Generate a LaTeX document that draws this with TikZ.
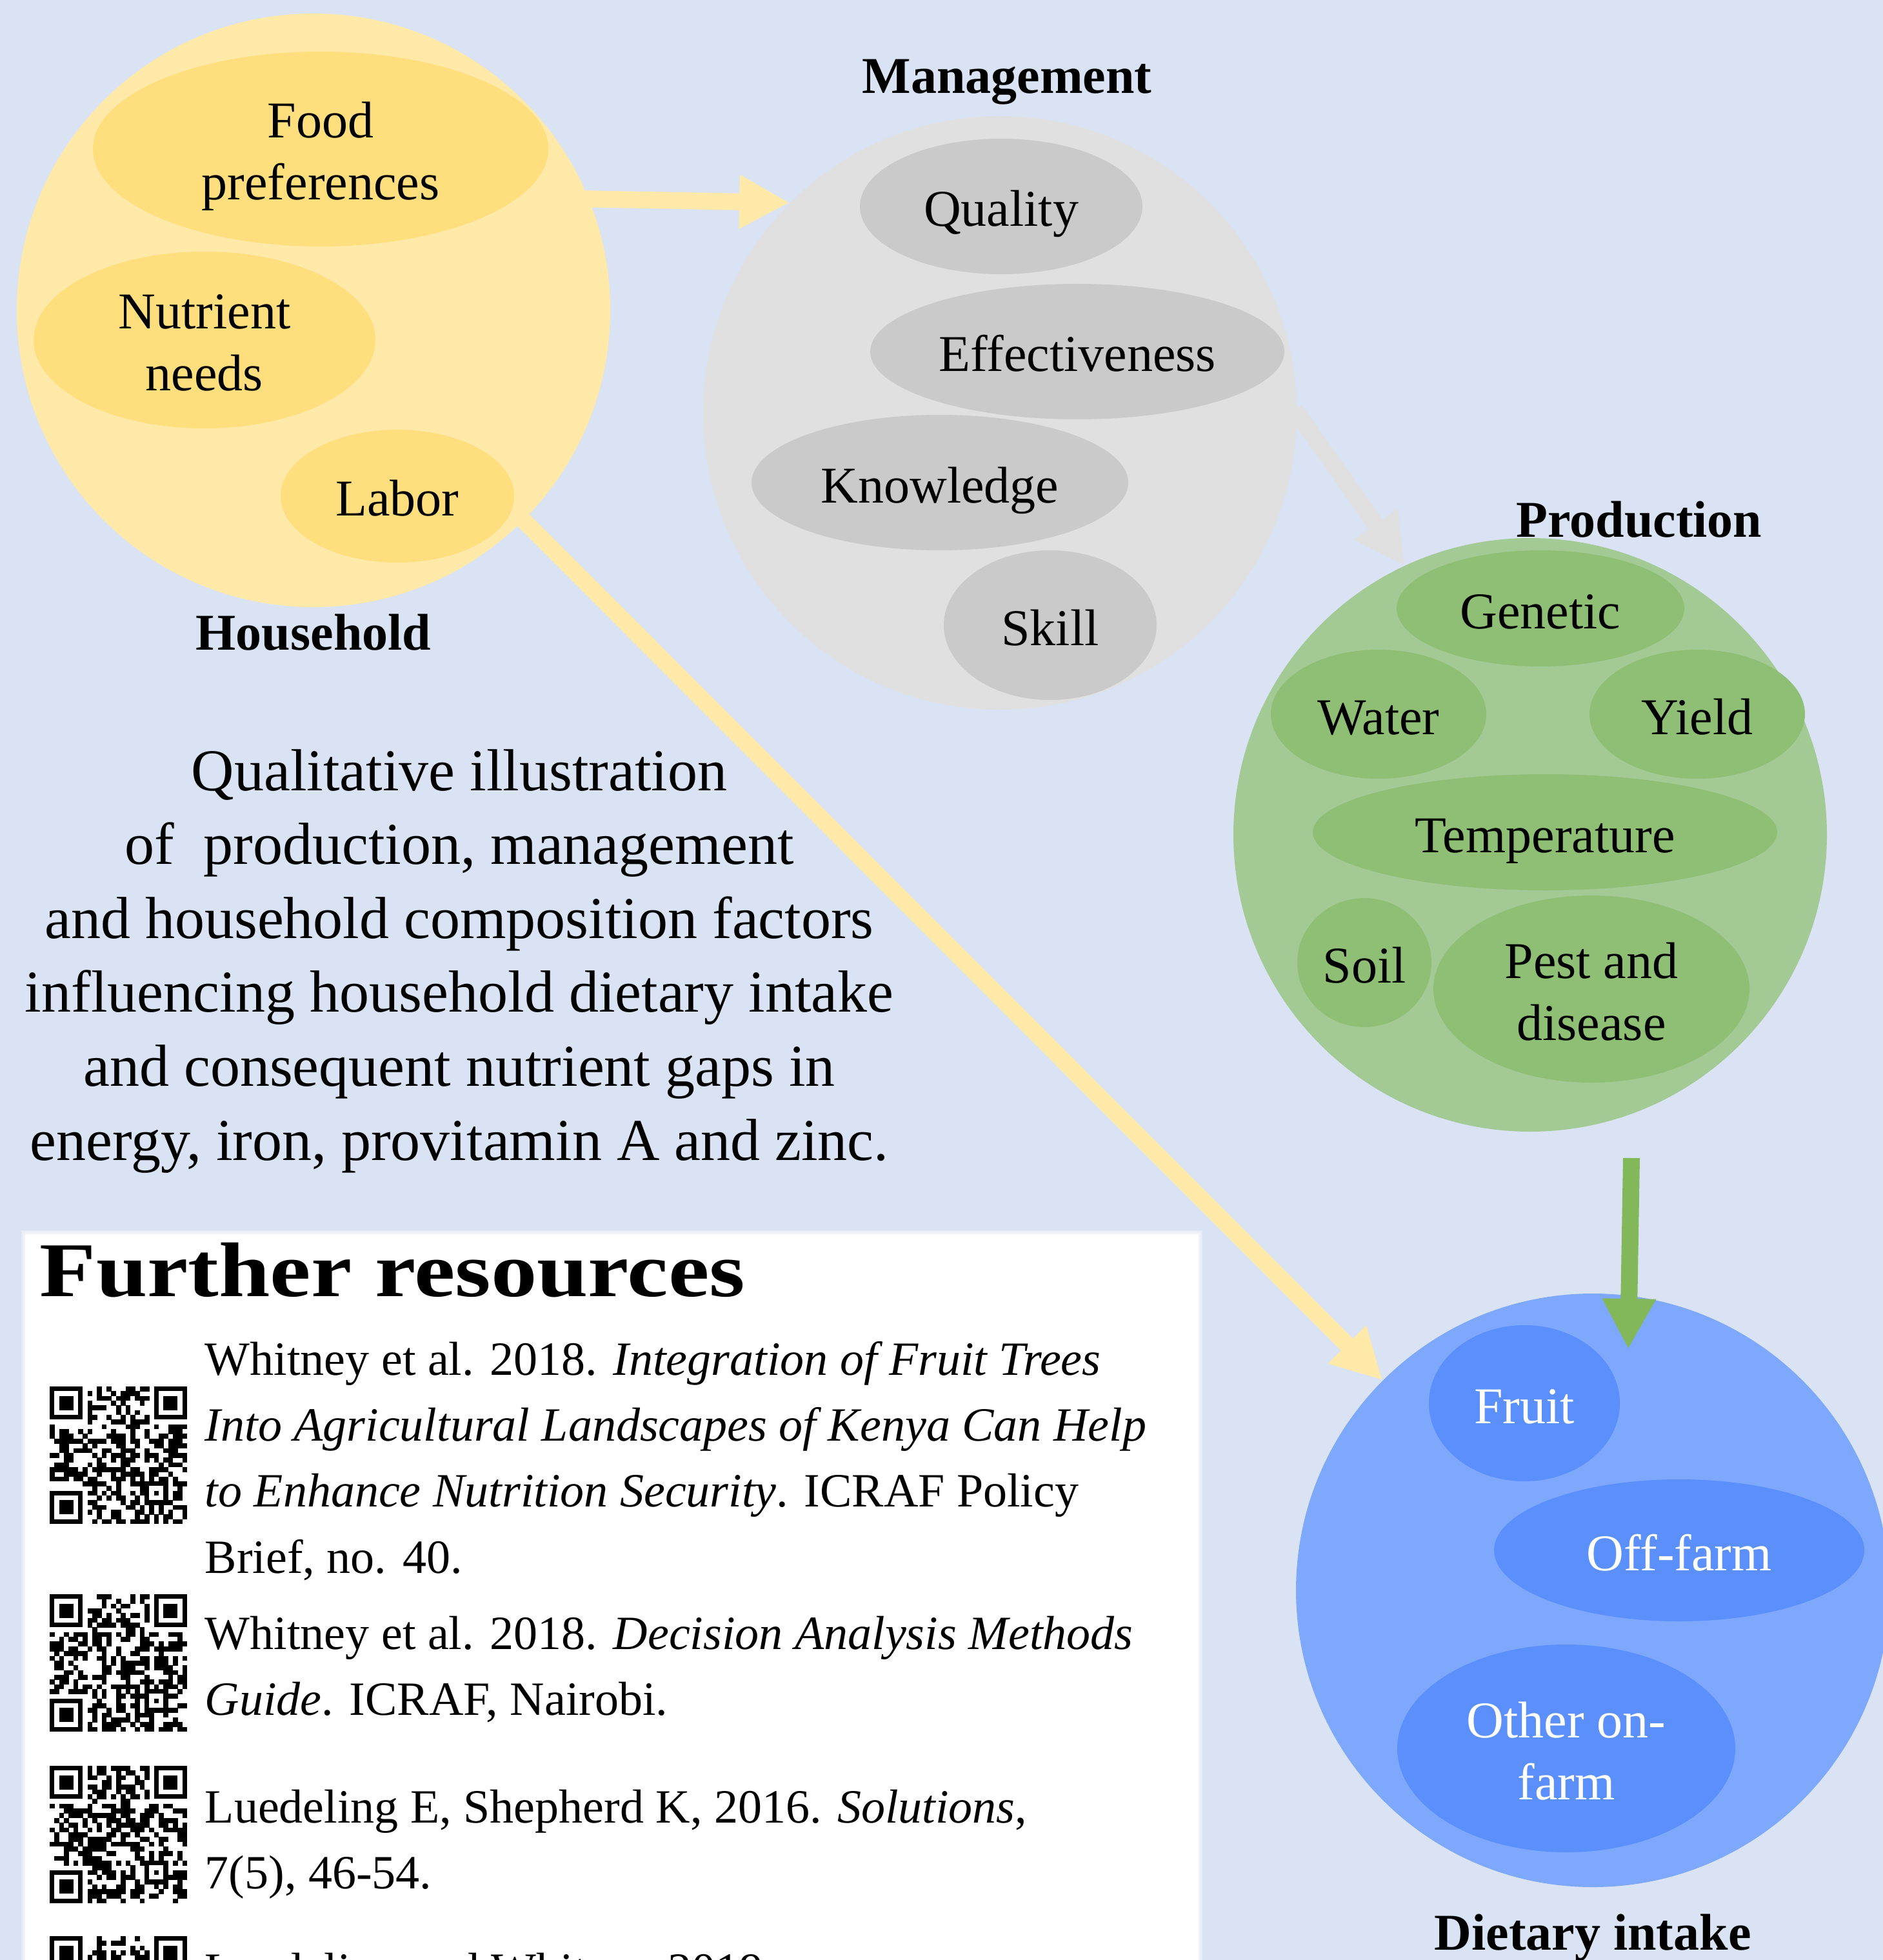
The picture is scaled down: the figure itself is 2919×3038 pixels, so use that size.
\documentclass[tikz,border=0pt]{standalone}
\usepackage{fontspec}
\setmainfont{Liberation Serif}
\usepackage{graphicx}
\usetikzlibrary{shapes.geometric,arrows.meta,calc}

% palette
\definecolor{cBG}{HTML}{DAE3F3}
\definecolor{cHHout}{HTML}{FFE9A8}
\definecolor{cHHin}{HTML}{FFDE7D}
\definecolor{cMGout}{HTML}{E0E0E0}
\definecolor{cMGin}{HTML}{CACACA}
\definecolor{cPRout}{HTML}{A3C995}
\definecolor{cPRin}{HTML}{8FBF74}
\definecolor{cPRarrow}{HTML}{82B85A}
\definecolor{cDIout}{HTML}{7EA8FC}
\definecolor{cDIin}{HTML}{5A8FFC}

% fixed text box heights so every bubble label sits at the same optical height
\newcommand\oneline[1]{\raisebox{0pt}[17pt][1.5pt]{#1}}
\newcommand\twolines[2]{\raisebox{0pt}[17pt][25.5pt]{\begin{tabular}[t]{@{}c@{}}#1\\#2\end{tabular}}}

% QR-style module pattern: #1,#2 top-left corner, #3 seed
\newcommand\qrpattern[3]{%
  \pgfmathsetseed{#3}%
  \foreach \i in {0,...,28}{%
    \foreach \j in {0,...,28}{%
      \def\keep{1}%
      \ifnum\i<8 \ifnum\j<8 \def\keep{0}\fi\fi
      \ifnum\i>20 \ifnum\j<8 \def\keep{0}\fi\fi
      \ifnum\i<8 \ifnum\j>20 \def\keep{0}\fi\fi
      \ifnum\i>19 \ifnum\i<25 \ifnum\j>19 \ifnum\j<25 \def\keep{0}\fi\fi\fi\fi
      \ifnum\keep=1
        \pgfmathrandominteger{\bit}{0}{1}%
        \ifnum\bit=1 \fill (#1+\i*7.345, #2+\j*7.345) rectangle ++(7.7,7.7);\fi
      \fi
    }%
  }%
  \foreach \fx/\fy in {0/0, 22/0, 0/22}{%
    \fill (#1+\fx*7.345, #2+\fy*7.345) rectangle ++(51.4,51.4);
    \fill[white] (#1+\fx*7.345+7.345, #2+\fy*7.345+7.345) rectangle ++(36.7,36.7);
    \fill (#1+\fx*7.345+14.69, #2+\fy*7.345+14.69) rectangle ++(22.0,22.0);
  }%
  \fill (#1+20*7.345, #2+20*7.345) rectangle ++(36.7,36.7);
  \fill[white] (#1+21*7.345, #2+21*7.345) rectangle ++(22.0,22.0);
  \fill (#1+22*7.345, #2+22*7.345) rectangle ++(7.345,7.345);
}

\begin{document}
\begin{tikzpicture}[x=0.25pt, y=-0.25pt, font=\fontsize{20}{24}\selectfont,
  hub/.style={circle, minimum size=230pt, inner sep=0pt},
  blob/.style={ellipse, inner sep=0pt},
  title/.style={anchor=base, inner sep=0pt, font=\bfseries\fontsize{20}{24}\selectfont},
  refs/.style={anchor=base west, inner sep=0pt, font=\fontsize{18.5}{25.6}\selectfont},
  fat/.style={line width=6.5pt, -{Triangle[width=19.5pt,length=19.5pt]}}]

\useasboundingbox (0,0) rectangle (2919,3038);
\clip (0,0) rectangle (2919,3038);
\fill[cBG] (0,0) rectangle (2919,3038);

% ---------- Further resources panel ----------
\foreach \k in {1,...,4}
  \fill[white, opacity=0.22] (39-\k*1.6, 1913-\k*1.6) rectangle (1858+\k*1.6, 3100);
\fill[white] (39,1913) rectangle (1858,3100);

\node[anchor=base west, inner sep=0pt, font=\bfseries\fontsize{30}{36}\selectfont]
  (further) at (61,2009) {\scalebox{1.19}[1]{Further resources}};

\qrpattern{77}{2149}{11}
\qrpattern{77}{2471}{23}
\qrpattern{77}{2737}{37}
\qrpattern{77}{3001}{41}

\node[refs] (ref1) at (317,2131) {\begin{tabular}[t]{@{}l@{}}
  Whitney et al. 2018. \textit{Integration of Fruit Trees}\\
  \textit{Into Agricultural Landscapes of Kenya Can Help}\\
  \textit{to Enhance Nutrition Security}. ICRAF Policy\\
  Brief, no. 40.\end{tabular}};
\node[refs] (ref2) at (317,2556) {\begin{tabular}[t]{@{}l@{}}
  Whitney et al. 2018. \textit{Decision Analysis Methods}\\
  \textit{Guide}. ICRAF, Nairobi.\end{tabular}};
\node[refs] (ref3) at (317,2825) {\begin{tabular}[t]{@{}l@{}}
  Luedeling E, Shepherd K, 2016. \textit{Solutions},\\
  7(5), 46-54.\end{tabular}};
\node[refs] (ref4) at (317,3078) {Luedeling and Whitney 2019.};

% ---------- caption ----------
\node[anchor=base, inner sep=0pt, font=\fontsize{23}{28.65}\selectfont]
  (caption) at (712,1225) {\begin{tabular}[t]{@{}c@{}}
  Qualitative illustration\\
  of\ \ production, management\\
  and household composition factors\\
  influencing household dietary intake\\
  and consequent nutrient gaps in\\
  energy, iron, provitamin A and zinc.\end{tabular}};

% ---------- Household ----------
\node[hub, fill=cHHout] (hh) at (486,481) {};
\node[blob, fill=cHHin, minimum width=176.5pt, minimum height=75.5pt] (food) at (497,231) {\twolines{Food}{preferences}};
\node[blob, fill=cHHin, minimum width=132.5pt, minimum height=68.5pt] (nutr) at (317,527) {\twolines{Nutrient}{needs}};
\node[blob, fill=cHHin, minimum width=90.5pt, minimum height=51.5pt] (labor) at (616,769) {\oneline{Labor}};
\node[title] (hhlab) at (486,1007) {Household};

% ---------- Management ----------
\node[hub, fill=cMGout] (mg) at (1550,640) {};
\node[blob, fill=cMGin, minimum width=109.5pt, minimum height=52.5pt] (qual) at (1552,320) {\oneline{Quality}};
\node[blob, fill=cMGin, minimum width=160.5pt, minimum height=52.5pt] (eff) at (1670,545) {\oneline{Effectiveness}};
\node[blob, fill=cMGin, minimum width=146pt, minimum height=52.5pt] (know) at (1457,748) {\oneline{Knowledge}};
\node[blob, fill=cMGin, minimum width=82.5pt, minimum height=58pt] (skill) at (1628,969) {\oneline{Skill}};
\node[title] (mglab) at (1561,145) {Management};

% ---------- Production ----------
\node[hub, fill=cPRout] (pr) at (2372,1294) {};
\node[blob, fill=cPRin, minimum width=111.5pt, minimum height=45pt] (gen) at (2388,943) {\oneline{Genetic}};
\node[blob, fill=cPRin, minimum width=83.5pt, minimum height=50pt] (water) at (2137,1107) {\oneline{Water}};
\node[blob, fill=cPRin, minimum width=83.5pt, minimum height=50pt] (yield) at (2631,1107) {\oneline{Yield}};
\node[blob, fill=cPRin, minimum width=180pt, minimum height=45pt] (temp) at (2395,1290) {\oneline{Temperature}};
\node[blob, fill=cPRin, minimum width=52pt, minimum height=50pt] (soil) at (2115,1492) {\oneline{Soil}};
\node[blob, fill=cPRin, minimum width=122.5pt, minimum height=72.5pt] (pest) at (2467,1533) {\twolines{Pest and}{disease}};
\node[title] (prlab) at (2541,832) {Production};

% ---------- Dietary intake ----------
\node[hub, fill=cDIout] (di) at (2469,2465) {};
\node[blob, fill=cDIin, text=white, minimum width=74pt, minimum height=60.5pt] (fruit) at (2363,2175) {\oneline{Fruit}};
\node[blob, fill=cDIin, text=white, minimum width=143.5pt, minimum height=55pt] (off) at (2603,2403) {\oneline{Off-farm}};
\node[blob, fill=cDIin, text=white, minimum width=131pt, minimum height=80.5pt] (onf) at (2428,2710) {\twolines{Other on-}{farm}};
\node[title] (dilab) at (2469,3022) {Dietary intake};

% ---------- connectors ----------
\draw[fat, cHHout, shorten <=-1.5pt] (hh.22) -- (mg.135);
\draw[fat, cMGout, shorten <=-1.5pt] (mg.0) -- (pr.115);
\draw[fat, cHHout, shorten <=-1.5pt] (hh.-45) -- (di.135);
\coordinate (gtop) at (2529,1795);
\coordinate (gtip) at (2524,2091);
\draw[fat, cPRarrow] (gtop) -- (gtip);

\end{tikzpicture}
\end{document}
